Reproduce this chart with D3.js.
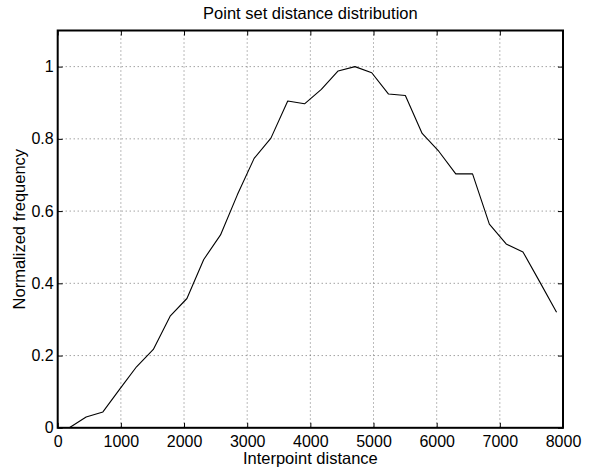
<!DOCTYPE html>
<html>
<head>
<meta charset="utf-8">
<script src="https://cdn.jsdelivr.net/npm/d3@7"></script>
<style>
  html, body { margin: 0; padding: 0; background: #fff; }
  svg { display: block; }
  text { font-family: "Liberation Sans", Arial, Helvetica, sans-serif; fill: #000; }
</style>
</head>
<body>
<svg id="chart" width="592" height="470"></svg>
<script>
// ---- data ----
const distance = [184, 450, 716, 982, 1248, 1514, 1780, 2046, 2312, 2578,
                  2844, 3110, 3376, 3642, 3908, 4174, 4440, 4706, 4972, 5238,
                  5504, 5770, 6036, 6302, 6568, 6834, 7100, 7366, 7632, 7898];
const frequency = [0.000, 0.030, 0.044, 0.107, 0.169, 0.217, 0.309, 0.358, 0.466, 0.534,
                   0.645, 0.746, 0.802, 0.905, 0.897, 0.937, 0.988, 1.000, 0.983, 0.924,
                   0.920, 0.815, 0.765, 0.703, 0.703, 0.564, 0.509, 0.487, 0.404, 0.320];
const xTicks = [0, 1000, 2000, 3000, 4000, 5000, 6000, 7000, 8000];
const yTicks = [0, 0.2, 0.4, 0.6, 0.8, 1];
const yTickLabels = ["0", "0.2", "0.4", "0.6", "0.8", "1"];
const titleText = "Point set distance distribution";
const xLabelText = "Interpoint distance";
const yLabelText = "Normalized frequency";

// ---- layout ----
const L = 57.7, R = 563, T = 30.5, B = 427.8;
const svg = d3.select("#chart");

const x = d3.scaleLinear().domain([0, 8000]).range([L, R]);
const y = d3.scaleLinear().domain([0, 1.1]).range([B, T]);

// grid
const grid = svg.append("g");
grid.selectAll("line.gx").data(xTicks.slice(1, -1)).enter().append("line")
  .attr("x1", d => x(d)).attr("x2", d => x(d))
  .attr("y1", T).attr("y2", B)
  .attr("stroke", "#555").attr("stroke-width", 0.8).attr("stroke-dasharray", "1,3");
grid.selectAll("line.gy").data(yTicks.slice(1)).enter().append("line")
  .attr("x1", L).attr("x2", R)
  .attr("y1", d => y(d)).attr("y2", d => y(d))
  .attr("stroke", "#555").attr("stroke-width", 0.8).attr("stroke-dasharray", "1,3");

// data line
const line = d3.line().x((d, i) => x(distance[i])).y(d => y(d));
svg.append("path").datum(frequency)
  .attr("d", line).attr("fill", "none")
  .attr("stroke", "#000").attr("stroke-width", 1.1)
  .attr("stroke-linejoin", "round");

// axes with inward ticks
const tickLen = 5;
const axB = svg.append("g").attr("transform", `translate(0,${B})`)
  .call(d3.axisBottom(x).tickValues(xTicks).tickSize(-tickLen).tickPadding(9).tickFormat(d3.format("d")));
const axT = svg.append("g").attr("transform", `translate(0,${T})`)
  .call(d3.axisTop(x).tickValues(xTicks).tickSize(-tickLen).tickFormat(""));
const axL = svg.append("g").attr("transform", `translate(${L},0)`)
  .call(d3.axisLeft(y).tickValues(yTicks).tickSize(-tickLen).tickPadding(4)
    .tickFormat((d, i) => yTickLabels[i]));
const axR = svg.append("g").attr("transform", `translate(${R},0)`)
  .call(d3.axisRight(y).tickValues(yTicks).tickSize(-tickLen).tickFormat(""));

[axB, axT, axL, axR].forEach(g => {
  g.select(".domain").remove();
  g.selectAll(".tick line").attr("stroke", "#000").attr("stroke-width", 1);
  g.selectAll(".tick text").attr("font-size", 16)
    .attr("font-family", "'Liberation Sans', Arial, sans-serif").attr("fill", "#000");
});
axB.selectAll(".tick text").attr("dy", null).attr("y", 19);

// frame
svg.append("rect").attr("x", L).attr("y", T).attr("width", R - L).attr("height", B - T)
  .attr("fill", "none").attr("stroke", "#000").attr("stroke-width", 2);

// labels
svg.append("text").attr("x", (L + R) / 2).attr("y", 18.5)
  .attr("text-anchor", "middle").attr("font-size", 16.5).text(titleText);
svg.append("text").attr("x", (L + R) / 2).attr("y", 464)
  .attr("text-anchor", "middle").attr("font-size", 16.5).text(xLabelText);
svg.append("text").attr("transform", `translate(25,${(T + B) / 2}) rotate(-90)`)
  .attr("text-anchor", "middle").attr("font-size", 16.5).text(yLabelText);
</script>
</body>
</html>
